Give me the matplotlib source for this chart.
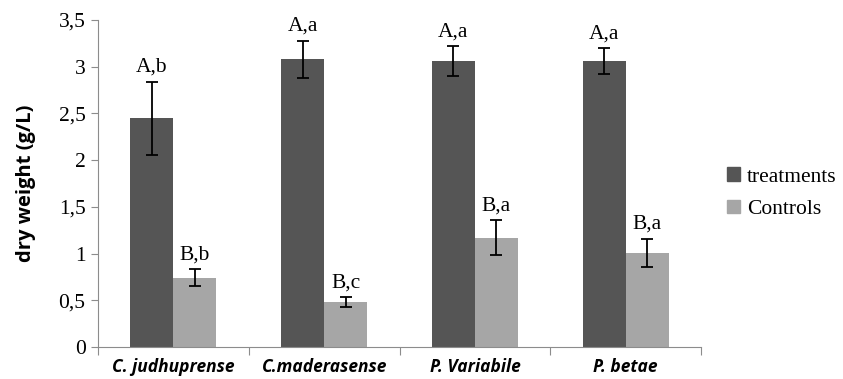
import matplotlib.pyplot as plt
import numpy as np
from matplotlib.patches import Patch

species = ["C. judhuprense", "C.maderasense", "P. Variabile", "P. betae"]
treatments = [2.45, 3.08, 3.06, 3.06]
treatments_err = [0.39, 0.20, 0.16, 0.14]
controls = [0.74, 0.48, 1.17, 1.01]
controls_err = [0.09, 0.055, 0.19, 0.15]
treat_labels = ["A,b", "A,a", "A,a", "A,a"]
ctrl_labels = ["B,b", "B,c", "B,a", "B,a"]

dark = "#555555"
light = "#a6a6a6"
axis_col = "#8c8c8c"
serif = ["Liberation Serif", "DejaVu Serif"]

fig = plt.figure(figsize=(8.43, 3.79), dpi=100)
ax = fig.add_axes([0.1163, 0.0844, 0.7153, 0.8628])

x = np.arange(len(species))
w = 0.285
ax.bar(x - w / 2, treatments, w, color=dark, zorder=2)
ax.bar(x + w / 2, controls, w, color=light, zorder=2)
ax.errorbar(x - w / 2, treatments, yerr=treatments_err, fmt="none",
            ecolor="black", elinewidth=1.3, capsize=4, capthick=1.3, zorder=3)
ax.errorbar(x + w / 2, controls, yerr=controls_err, fmt="none",
            ecolor="black", elinewidth=1.3, capsize=4, capthick=1.3, zorder=3)

for xi, v, e, lab in zip(x - w / 2, treatments, treatments_err, treat_labels):
    ax.text(xi, v + e + 0.05, lab, ha="center", va="bottom",
            fontsize=15.5, family=serif)
for xi, v, e, lab in zip(x + w / 2, controls, controls_err, ctrl_labels):
    ax.text(xi, v + e + 0.05, lab, ha="center", va="bottom",
            fontsize=15.5, family=serif)

ax.set_xlim(-0.5, len(species) - 0.5)
ax.set_ylim(0, 3.5)
ax.set_yticks(np.arange(0, 3.51, 0.5))
ax.set_yticklabels(["0", "0,5", "1", "1,5", "2", "2,5", "3", "3,5"],
                   family=serif, fontsize=15.5)

ax.set_xticks(np.arange(-0.5, len(species), 1.0))
ax.set_xticklabels([])
ax.set_xticks(x, minor=True)
ax.set_xticklabels(species, minor=True, fontsize=12.5, fontweight="bold",
                   style="italic", family="Open Sans")
ax.tick_params(axis="x", which="minor", length=0, pad=8)
ax.tick_params(axis="x", which="major", length=6, color=axis_col, direction="out")
ax.tick_params(axis="y", length=5, color=axis_col, pad=4)

for s in ["top", "right"]:
    ax.spines[s].set_visible(False)
for s in ["left", "bottom"]:
    ax.spines[s].set_color(axis_col)

ax.set_ylabel("dry weight (g/L)", fontsize=14.5, fontweight="bold",
              family="Open Sans", labelpad=16)

handles = [Patch(color=dark, label="treatments"), Patch(color=light, label="Controls")]
fig.legend(handles=handles, loc="center left", bbox_to_anchor=(0.862, 0.49),
           frameon=False, prop={"family": serif, "size": 15.5},
           handlelength=0.6, handleheight=0.6, handletextpad=0.35,
           labelspacing=0.6, borderpad=0, borderaxespad=0)

fig.savefig("out.png", dpi=100)
